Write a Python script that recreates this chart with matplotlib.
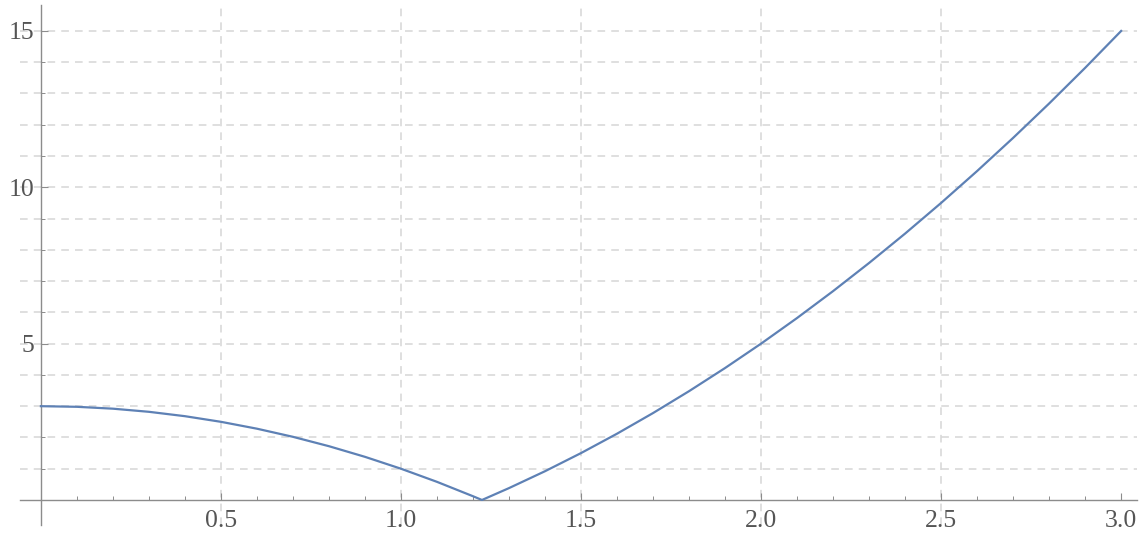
import matplotlib
matplotlib.use("Agg")
import matplotlib.pyplot as plt
from matplotlib.ticker import MultipleLocator, FixedLocator

# values
xs = [0.0, 0.1, 0.2, 0.3, 0.4, 0.5, 0.6, 0.7, 0.8, 0.9, 1.0, 1.1, 1.2, 1.225,
      1.3, 1.4, 1.5, 1.6, 1.7, 1.8, 1.9, 2.0, 2.1, 2.2, 2.3, 2.4, 2.5, 2.6,
      2.7, 2.8, 2.9, 3.0]
ys = [3.0, 2.98, 2.92, 2.82, 2.68, 2.5, 2.28, 2.02, 1.72, 1.38, 1.0, 0.58, 0.12, 0.0,
      0.38, 0.92, 1.5, 2.12, 2.78, 3.48, 4.22, 5.0, 5.82, 6.68, 7.58, 8.52, 9.5, 10.52,
      11.58, 12.68, 13.82, 15.0]

x_major = [0.5, 1.0, 1.5, 2.0, 2.5, 3.0]
x_labels = ["0.5", "1.0", "1.5", "2.0", "2.5", "3.0"]
y_major = [5, 10, 15]
y_labels = ["5", "10", "15"]
x_grid = [0.5, 1.0, 1.5, 2.0, 2.5]
y_grid = list(range(1, 16))

plt.rcParams['font.family'] = ['Liberation Serif', 'DejaVu Serif']

W, H = 1141, 539
fig = plt.figure(figsize=(W / 100, H / 100), dpi=100)
ax = fig.add_axes([20 / W, 14 / H, (1137 - 20) / W, (534 - 14) / H])
ax.set_xlim(-0.058, 3.044)
ax.set_ylim(-0.8, 15.83)

gridc = '#d6d6d6'
for gx in x_grid:
    ax.axvline(gx, color=gridc, lw=1.1, ls=(0, (5, 4)), zorder=0)
for gy in y_grid:
    ax.axhline(gy, color=gridc, lw=1.1, ls=(0, (5, 4)), zorder=0)

ax.plot(xs, ys, color='#5e81b5', lw=1.6, zorder=3)

axc = '#8c8c8c'
for s in ['top', 'right']:
    ax.spines[s].set_visible(False)
ax.spines['left'].set_position(('data', 0))
ax.spines['bottom'].set_position(('data', 0))
ax.spines['left'].set_color(axc)
ax.spines['bottom'].set_color(axc)
ax.spines['left'].set_linewidth(1.0)
ax.spines['bottom'].set_linewidth(1.0)

ax.xaxis.set_major_locator(FixedLocator(x_major))
ax.set_xticklabels(x_labels)
ax.xaxis.set_minor_locator(MultipleLocator(0.1))
ax.yaxis.set_major_locator(FixedLocator(y_major))
ax.set_yticklabels(y_labels)
ax.yaxis.set_minor_locator(MultipleLocator(1))

ax.tick_params(axis='both', which='major', direction='in', length=5, width=0.8,
               color=axc, labelsize=18.5, labelcolor='#555555')
ax.tick_params(axis='both', which='minor', direction='in', length=3, width=0.7, color=axc)
ax.tick_params(axis='x', which='major', pad=7)
ax.tick_params(axis='y', which='major', pad=5)
ax.patch.set_alpha(0)

fig.savefig('out.png', dpi=100)
